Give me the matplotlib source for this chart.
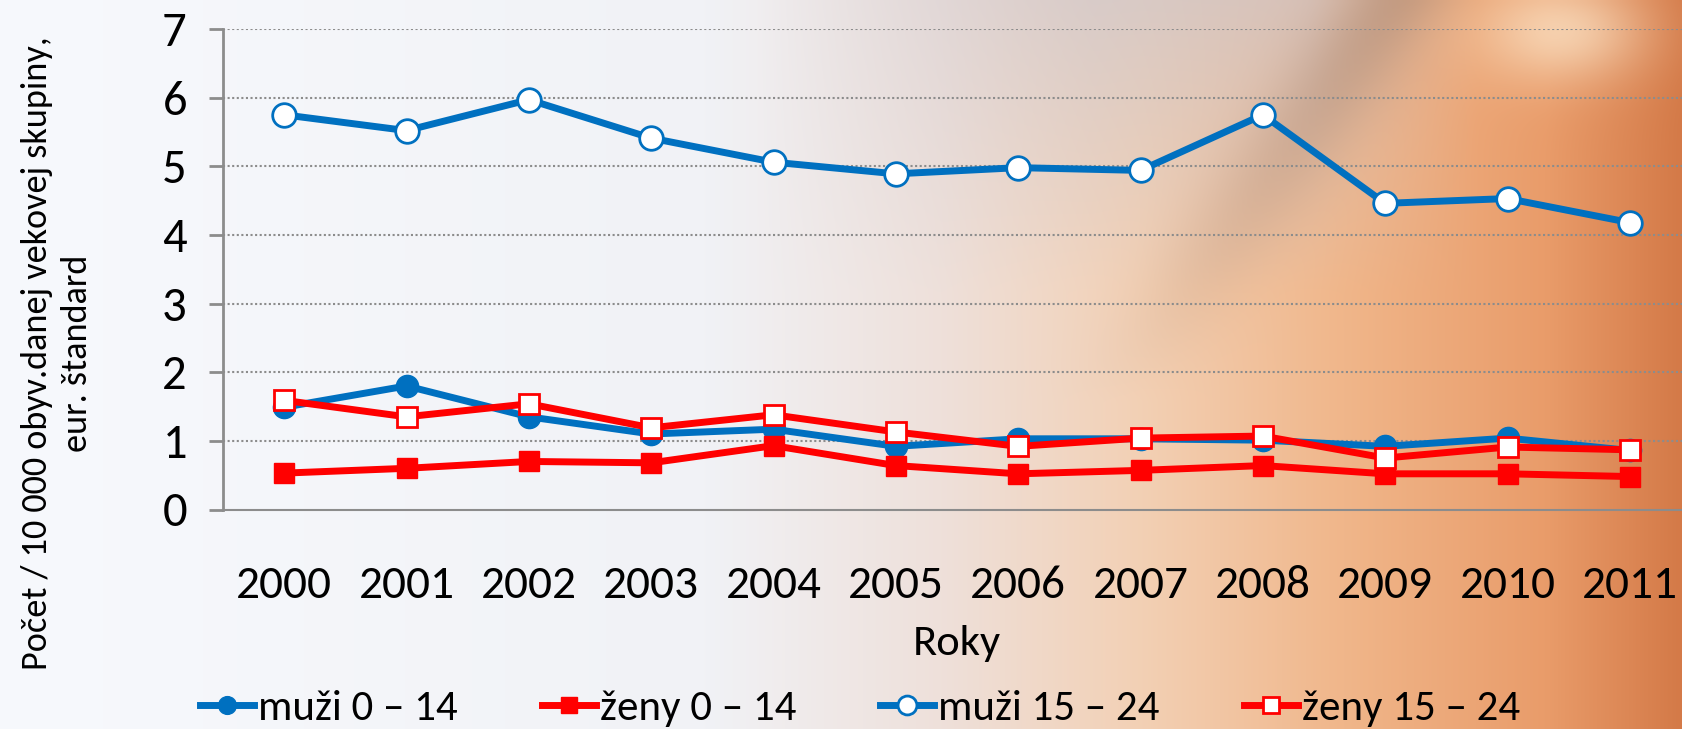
import numpy as np
import matplotlib
matplotlib.use("Agg")
import matplotlib.pyplot as plt
from matplotlib import font_manager
from matplotlib.colors import to_rgb

years = ["2000", "2001", "2002", "2003", "2004", "2005", "2006", "2007", "2008", "2009", "2010", "2011"]
muzi_0_14 = [1.49, 1.80, 1.35, 1.10, 1.17, 0.92, 1.03, 1.03, 1.01, 0.92, 1.04, 0.86]
zeny_0_14 = [0.53, 0.60, 0.70, 0.68, 0.93, 0.64, 0.52, 0.57, 0.64, 0.52, 0.52, 0.48]
muzi_15_24 = [5.75, 5.52, 5.97, 5.41, 5.06, 4.89, 4.98, 4.94, 5.75, 4.46, 4.53, 4.18]
zeny_15_24 = [1.59, 1.35, 1.54, 1.19, 1.38, 1.13, 0.92, 1.04, 1.07, 0.75, 0.91, 0.87]

labels = ["muži 0 – 14", "ženy 0 – 14", "muži 15 – 24", "ženy 15 – 24"]
y_ticks = [0, 1, 2, 3, 4, 5, 6, 7]

avail = {f.name for f in font_manager.fontManager.ttflist}
fam = "DejaVu Sans"
for cand in ["Carlito", "Liberation Sans Narrow", "Lato", "Open Sans"]:
    if cand in avail:
        fam = cand
        break
plt.rcParams["font.family"] = [fam, "DejaVu Sans"]

fig = plt.figure(figsize=(16.82, 7.29), dpi=100)

# background gradient
H, W = 180, 400
xx = np.linspace(0, 1, W)[None, :].repeat(H, 0)
yy = np.linspace(0, 1, H)[:, None].repeat(W, 1)  # 0 top, 1 bottom
stops = [(0.0, "#f7f9fd"), (0.42, "#f1f2f6"), (0.56, "#eee0da"),
         (0.68, "#f3d0b4"), (0.80, "#f0b68a"), (0.92, "#e99c6a"), (1.0, "#d47a48")]
img = np.zeros((H, W, 3))
pos = [s[0] for s in stops]
cols = np.array([to_rgb(s[1]) for s in stops])
for c in range(3):
    img[..., c] = np.interp(xx, pos, cols[:, c])
# grey top-right tint
gray = np.array(to_rgb("#c8c6d0"))
wgt = np.clip((xx - 0.45) / 0.2, 0, 1) * np.clip(1 - yy / 0.4, 0, 1) * 0.6
wgt *= np.clip((0.88 - xx) / 0.1, 0, 1)
img = img * (1 - wgt[..., None]) + gray * wgt[..., None]
# diagonal dark swoosh
d = (xx - (0.83 - 0.30 * yy))
band = np.exp(-(d / 0.035) ** 2) * np.clip(1 - yy / 0.55, 0, 1) * 0.35
brown = np.array(to_rgb("#8a6a58"))
img = img * (1 - band[..., None]) + brown * band[..., None]
# bright highlight top right
hl = np.exp(-(((xx - 0.93) / 0.05) ** 2 + ((yy - 0.04) / 0.07) ** 2)) * 0.6
img = img * (1 - hl[..., None]) + np.array(to_rgb("#fff4dc")) * hl[..., None]
bg = fig.add_axes([0, 0, 1, 1], zorder=-10)
bg.imshow(np.clip(img, 0, 1), aspect="auto", extent=[0, 1, 0, 1], interpolation="bicubic")
bg.axis("off")

ax = fig.add_axes([223 / 1682, 1 - 509.5 / 729, (1691 - 223) / 1682, (509.5 - 29) / 729])
ax.set_facecolor("none")
x = np.arange(len(years))

blue = "#0070c0"
red = "#ff0000"
ax.plot(x, muzi_0_14, color=blue, lw=5, marker="o", ms=16, mfc=blue, mec=blue, label=labels[0], zorder=3)
ax.plot(x, zeny_0_14, color=red, lw=5, marker="s", ms=14, mfc=red, mec=red, label=labels[1], zorder=3)
ax.plot(x, muzi_15_24, color=blue, lw=5, marker="o", ms=17, mfc="white", mec=blue, mew=2, label=labels[2], zorder=4)
ax.plot(x, zeny_15_24, color=red, lw=5, marker="s", ms=15, mfc="white", mec=red, mew=2, label=labels[3], zorder=4)

ax.set_xlim(-0.5, 11.5)
ax.set_ylim(0, 7)
ax.set_yticks(y_ticks)
ax.set_yticklabels([str(v) for v in y_ticks], fontsize=35)
ax.set_xticks(x)
ax.set_xticklabels(years, fontsize=34)
ax.tick_params(axis="x", length=0, pad=40)
ax.tick_params(axis="y", length=10, width=2, color="#8c8c8c", direction="out", pad=16)
for yv in y_ticks[1:]:
    ax.axhline(yv, color="#8c8c8c", lw=1.5, ls=(0, (1, 1.2)), zorder=1)
for s in ["top", "right"]:
    ax.spines[s].set_visible(False)
ax.spines["left"].set_color("#8c8c8c")
ax.spines["left"].set_linewidth(2)
ax.spines["bottom"].set_color("#8c8c8c")
ax.spines["bottom"].set_linewidth(1.5)

ax.set_xlabel("Roky", fontsize=32, labelpad=14)
fig.text(0.034, 0.515, "Počet / 10 000 obyv.danej vekovej skupiny,\neur. štandard",
         rotation=90, ha="center", va="center", fontsize=26, linespacing=1.3)

leg = fig.legend(loc="center", bbox_to_anchor=(860 / 1682, 1 - 708 / 729), ncol=4, frameon=False,
                 fontsize=31, handlelength=1.25, handletextpad=0.1, columnspacing=1.95,
                 markerscale=0.8)

fig.savefig("out.png", dpi=100)
